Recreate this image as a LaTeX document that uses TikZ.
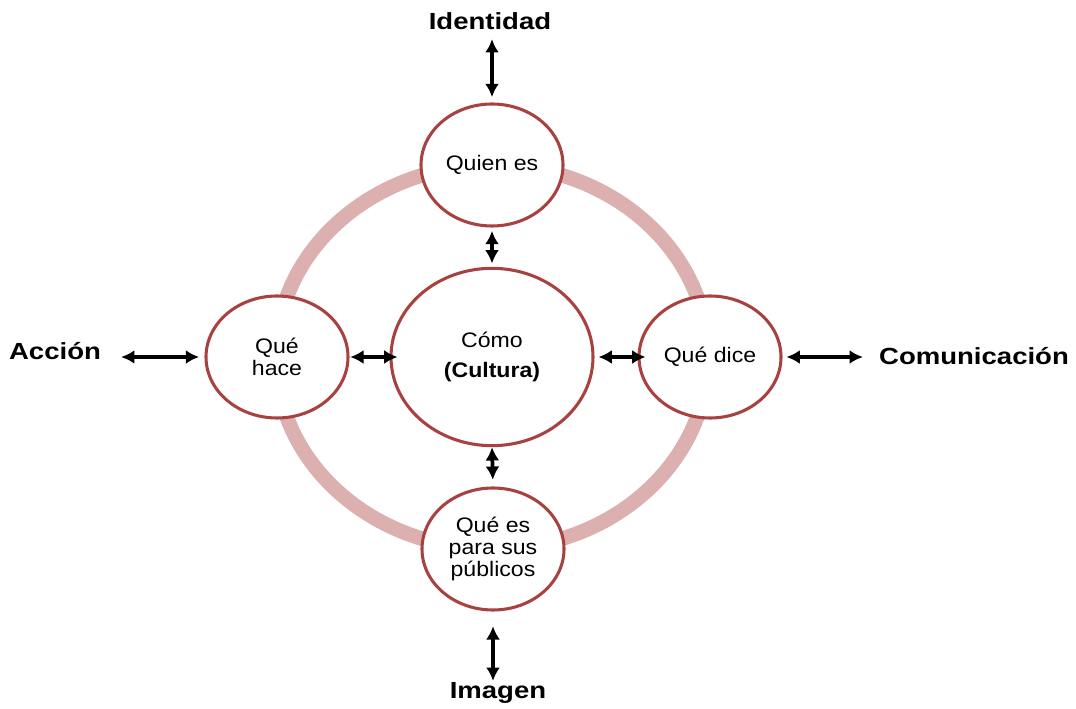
\documentclass[tikz,border=0pt]{standalone}
\usepackage{fontspec}
\setmainfont{Liberation Sans}[FakeStretch=1.1]
\newfontfamily\labelfont{Liberation Sans}[FakeStretch=1.18]
\usetikzlibrary{arrows.meta,shapes.geometric}

\definecolor{ringpink}{RGB}{221,176,176}
\definecolor{bubblered}{RGB}{168,66,64}

\tikzset{
  ring/.style={draw=ringpink, line width=11pt},
  bubble/.style={ellipse, draw=bubblered, line width=2.3pt, fill=white,
    inner sep=0pt, align=center, font=\fontsize{15.75pt}{16.5pt}\selectfont},
  smallbubble/.style={bubble, minimum width=106.5pt, minimum height=91.5pt},
  corebubble/.style={bubble, minimum width=151.5pt, minimum height=133pt},
  outerlabel/.style={inner sep=0pt, font=\labelfont\bfseries\fontsize{17.5pt}{20pt}\selectfont},
  dbl/.style={line width=2.8pt,
    arrows={Latex[length=10pt,width=10.5pt]-Latex[length=10pt,width=10.5pt]}}
}

\begin{document}
\begin{tikzpicture}[x=0.75pt,y=-0.75pt]
\useasboundingbox (0,0) rectangle (1076,709);

% background ring joining the four outer bubbles
\draw[ring] (492,357) ellipse [x radius=216, y radius=192];

% bubbles
\node[corebubble] (core) at (492,357) {Cómo\\[6pt]\textbf{(Cultura)}};
\node[smallbubble] (top) at (492,165) {Quien es};
\node[smallbubble] (lft) at (277,357) {Qué\\hace};
\node[smallbubble] (rgt) at (710,357) {Qué dice};
\node[smallbubble] (bot) at (493,549) {Qué es\\para sus\\públicos};

% outer labels
\node[outerlabel] (ident) at (490,21) {Identidad};
\node[outerlabel] (imag) at (498,693) {Imagen};
\node[outerlabel] (acc) at (55,351) {Acción};
\node[outerlabel] (com) at (974,356) {Comunicación};

% inner connectors
\draw[dbl, shorten <=2.5pt, shorten >=2.5pt] (top.south) -- (core.north);
\draw[dbl, shorten <=0pt, shorten >=5pt] (core.south) -- (bot.north);
\draw[dbl, shorten <=0.5pt, shorten >=-6pt] (lft.east) -- (core.west);
\draw[dbl, shorten <=3pt, shorten >=-6pt] (core.east) -- (rgt.west);

% outer connectors
\draw[dbl, shorten <=7pt, shorten >=4pt] (ident.south -| top.north) -- (top.north);
\draw[dbl, shorten <=11pt, shorten >=1pt] (bot.south) -- (imag.north -| bot.south);
\draw[dbl, shorten <=15pt, shorten >=4pt] (acc.east |- lft.west) -- (lft.west);
\draw[dbl, shorten <=3pt, shorten >=12pt] (rgt.east) -- (com.west |- rgt.east);
\end{tikzpicture}
\end{document}
